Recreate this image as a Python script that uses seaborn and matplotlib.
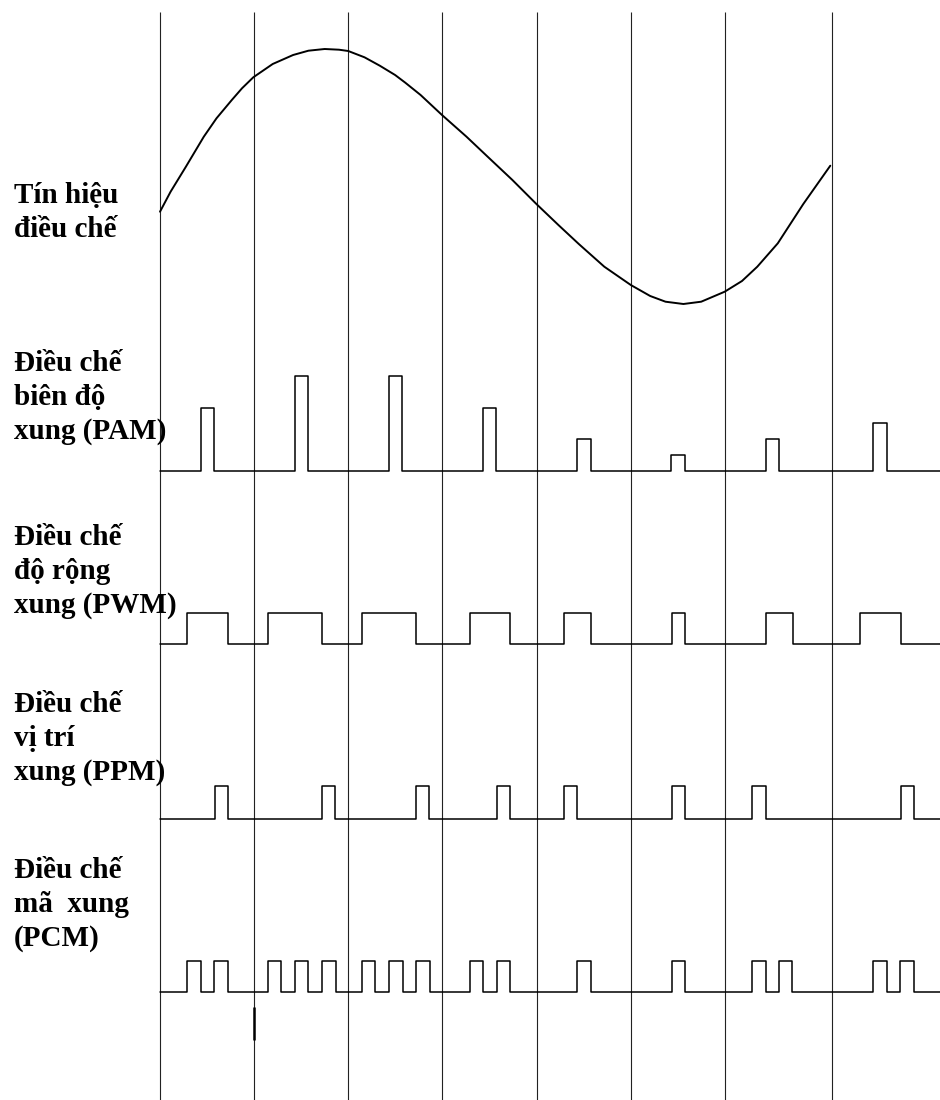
import numpy as np
import pandas as pd
import matplotlib
matplotlib.use('Agg')
import matplotlib.pyplot as plt
import seaborn as sns

# Time axis: 0 = first sampling instant, units ~ 1 px of the original sketch
sample_times = [0, 94, 188, 282, 377, 471, 565, 672]

# Modulating signal
sig_t = [0, 10.6, 25.9, 43.8, 56.5, 71.8, 82, 93.3, 112.7, 133.1, 148.4, 164.7,
         179, 188.2, 204.5, 219.8, 235.1, 245.3, 260.6, 282, 306.5, 326.9, 352.4,
         376.4, 398.4, 418.8, 444.3, 470.8, 490.2, 505.5, 523.4, 541.2, 564.7,
         582, 597.3, 617.8, 643.3, 670.3]
sig_amp = [-35.2, -15.2, 9.8, 39.8, 58.2, 76.5, 88.2, 99.2, 112.5, 121.5, 125.8,
           127.5, 126.8, 125.5, 119.2, 110.8, 101.5, 93.8, 81.5, 61.5, 39.8, 20.5,
           -3.5, -27.5, -48.5, -67.5, -90.2, -108.5, -119.5, -125.2, -127.5,
           -125.2, -115.2, -104.5, -90.2, -66.8, -27.5, 10.8]

# PAM: pulse start, pulse height
pam_start = [40.7, 134.6, 228.5, 322.9, 417.2, 511.1, 605.5, 713.2]
pam_height = [63, 95, 95, 63, 31.7, 15.7, 31.7, 47.4]
pam_width = 13.5

# PWM: rising / falling edges
pwm_rise = [27, 107.6, 201.9, 309.6, 404, 511.6, 605.5, 699.9]
pwm_fall = [67.8, 162.1, 256, 350.4, 431, 524.9, 632.6, 740.7]

# PPM: pulse positions
ppm_start = [54.5, 162.1, 256, 336.6, 404, 511.6, 592.2, 740.7]
ppm_width = 13.3

# PCM: positions of the "1" bits
pcm_start = [27, 54, 107.6, 134.6, 162.1, 201.9, 229, 256, 309.6, 336.6,
             417.2, 511.6, 592.2, 618.8, 713.2, 740.2]
pcm_width = 13.5

labels = ['Tín hiệu\nđiều chế',
          'Điều chế\nbiên độ\nxung (PAM)',
          'Điều chế\nđộ rộng\nxung (PWM)',
          'Điều chế\nvị trí\nxung (PPM)',
          'Điều chế\nmã  xung\n(PCM)']

# layout (vertical positions of each row, figure units)
T_END = 780
SIG_CENTER = 923.5
BASE = {'pam': 629.3, 'pwm': 455.7, 'ppm': 281.3, 'pcm': 108}
LABEL_Y = [863.3, 661, 487, 320, 154]   # baseline of last label line


def pulse_train(rise, fall, height, base, t_end=T_END):
    # build the step outline of a pulse train
    xs, ys = [0], [base]
    for r, f, h in zip(rise, fall, height):
        xs += [r, r, f, f]
        ys += [base, base + h, base + h, base]
    xs.append(t_end)
    ys.append(base)
    return pd.DataFrame({'t': xs, 'y': ys})


sns.set_style('white')
plt.rcParams['font.family'] = ['Liberation Serif', 'DejaVu Serif']

fig = plt.figure(figsize=(9.4, 11), dpi=100)
ax = fig.add_axes([0, 0, 1, 1])
ax.set_xlim(-160, T_END)
ax.set_ylim(0, 1100)
ax.axis('off')

# sampling instants
ax.vlines(sample_times, 0, 1088, color='#222222', lw=0.8)
ax.vlines(sample_times[1], 60, 93, color='black', lw=1.8)

# modulating signal
sig = pd.DataFrame({'t': sig_t, 'y': np.array(sig_amp) + SIG_CENTER})
sns.lineplot(data=sig, x='t', y='y', sort=False, estimator=None,
             color='black', lw=1.4, ax=ax)

pam = pulse_train(pam_start, [s + pam_width for s in pam_start], pam_height, BASE['pam'])
pwm = pulse_train(pwm_rise, pwm_fall, [31.6] * len(pwm_rise), BASE['pwm'])
ppm = pulse_train(ppm_start, [s + ppm_width for s in ppm_start],
                  [32.4] * len(ppm_start), BASE['ppm'])
pcm = pulse_train(pcm_start, [s + pcm_width for s in pcm_start],
                  [31.3] * len(pcm_start), BASE['pcm'])

for df in [pam, pwm, ppm, pcm]:
    sns.lineplot(data=df, x='t', y='y', sort=False, estimator=None,
                 color='black', lw=1.1, ax=ax)

for lab, y in zip(labels, LABEL_Y):
    ax.text(-146, y, lab, fontsize=21, fontweight='bold', va='baseline',
            ha='left', linespacing=1.33, color='black')

fig.savefig('out.png', dpi=100, facecolor='white')
